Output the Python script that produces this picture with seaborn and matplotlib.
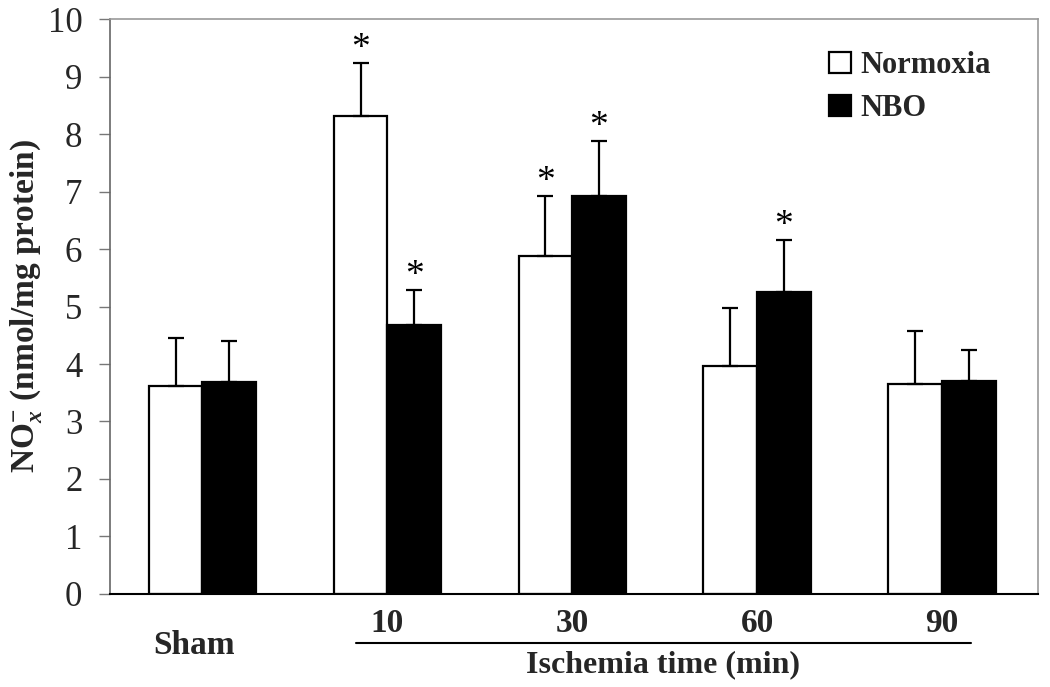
import numpy as np
import pandas as pd
import matplotlib.pyplot as plt
import matplotlib.transforms as mtransforms
import seaborn as sns

sns.set_theme(style="white")
plt.rcParams['font.family'] = ['Liberation Serif', 'DejaVu Serif']
plt.rcParams['mathtext.fontset'] = 'custom'
plt.rcParams['mathtext.rm'] = 'Liberation Serif:bold'
plt.rcParams['mathtext.it'] = 'Liberation Serif:italic:bold'
plt.rcParams['mathtext.bf'] = 'Liberation Serif:bold'

# data
groups = ['Sham', '10', '30', '60', '90']
normoxia = [3.62, 8.31, 5.88, 3.97, 3.65]
normoxia_sem = [0.83, 0.92, 1.04, 1.00, 0.93]
nbo = [3.69, 4.67, 6.92, 5.25, 3.71]
nbo_sem = [0.71, 0.61, 0.95, 0.90, 0.54]
normoxia_sig = [False, True, True, False, False]
nbo_sig = [False, True, True, True, False]

df = pd.DataFrame({
    'group': groups * 2,
    'condition': ['Normoxia'] * 5 + ['NBO'] * 5,
    'value': normoxia + nbo,
})

fig = plt.figure(figsize=(10.5, 6.87), dpi=100)
ax = fig.add_axes([0.1048, 0.1354, 0.8838, 0.8369])

sns.barplot(data=df, x='group', y='value', hue='condition',
            palette={'Normoxia': 'white', 'NBO': 'black'},
            edgecolor='black', linewidth=1.6, width=0.58,
            errorbar=None, ax=ax)

for cont, vals, errs, sig in zip(ax.containers, [normoxia, nbo],
                                 [normoxia_sem, nbo_sem], [normoxia_sig, nbo_sig]):
    xs = [b.get_x() + b.get_width() / 2 for b in cont]
    ax.errorbar(xs, vals, yerr=[np.zeros(len(errs)), errs], fmt='none',
                ecolor='black', elinewidth=1.6, capsize=6, capthick=1.6, zorder=3)
    for x, v, e, s in zip(xs, vals, errs, sig):
        if s:
            ax.text(x, v + e + 0.25, '*', ha='center', va='center',
                    fontsize=27, color='black')

ax.set_xlim(-0.5, 4.52)
ax.set_ylim(0, 10)
ax.set_yticks(range(0, 11))
ax.tick_params(axis='y', direction='out', length=8, width=1, color='#777',
               labelsize=25, pad=12, left=True)
ax.tick_params(axis='x', length=0, labelsize=24, pad=10)
ax.set_xticks(range(5))
ax.set_xticklabels(groups, fontweight='bold')

# drop "Sham" lower than the numbers
sham = ax.get_xticklabels()[0]
sham.set_transform(sham.get_transform() +
                   mtransforms.ScaledTranslation(-0.08, -22 / 100, fig.dpi_scale_trans))

ax.set_xlabel('')
ax.set_ylabel(r'NO$_{x}^{-}$ (nmol/mg protein)', fontsize=24, fontweight='bold')
ax.yaxis.set_label_coords(-0.071, 0.5)

trans = mtransforms.blended_transform_factory(ax.transData, ax.transAxes)
ax.plot([0.83, 4.16], [-0.085, -0.085], color='black', lw=1.5,
        transform=trans, clip_on=False)
ax.text(2.49, -0.123, 'Ischemia time (min)', transform=trans, ha='center',
        va='center', fontsize=23, fontweight='bold')

for side in ['top', 'right']:
    ax.spines[side].set_color('#999')
    ax.spines[side].set_linewidth(1.2)
ax.spines['left'].set_color('#666')
ax.spines['left'].set_linewidth(1.2)
ax.spines['bottom'].set_color('black')
ax.spines['bottom'].set_linewidth(1.5)

leg = ax.legend(frameon=False, loc='upper right', bbox_to_anchor=(0.962, 0.965),
                prop={'weight': 'bold', 'size': 22, 'family': 'Liberation Serif'},
                handlelength=0.7, handleheight=0.7, handletextpad=0.3,
                labelspacing=0.45, borderaxespad=0)

fig.savefig('out.png', dpi=100)
